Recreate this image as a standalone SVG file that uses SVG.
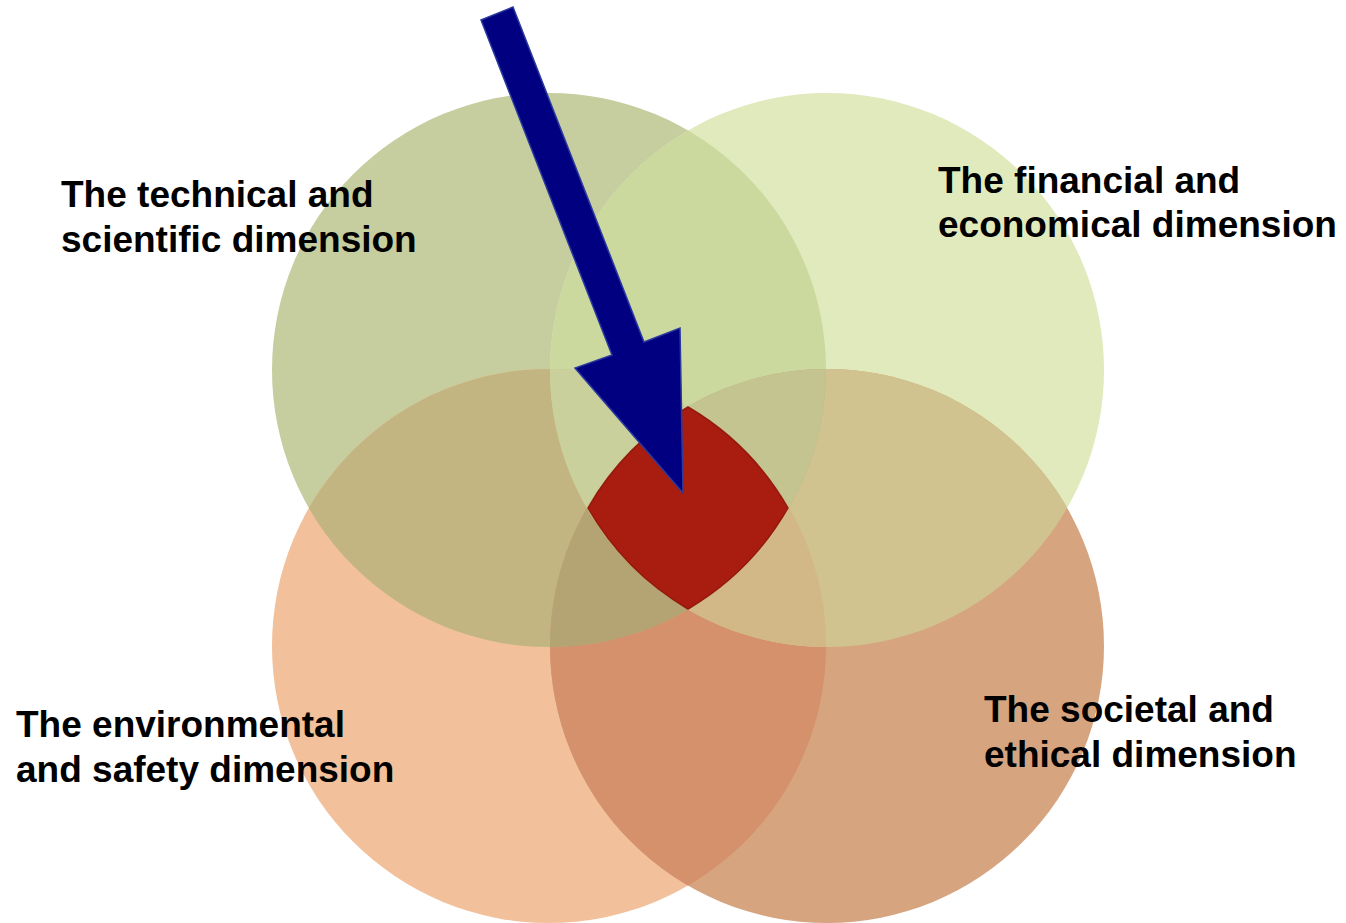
<svg xmlns="http://www.w3.org/2000/svg" width="1346" height="923" viewBox="0 0 1346 923">
<style>
.lbl{font-family:"Liberation Sans",Arial,sans-serif;font-weight:bold;font-size:37px;fill:#000}
</style>
<defs>
<clipPath id="kTL"><circle cx="549" cy="370" r="277"/></clipPath>
<clipPath id="kTR"><circle cx="827" cy="370" r="277"/></clipPath>
<clipPath id="kBL"><circle cx="549" cy="646" r="277"/></clipPath>
<clipPath id="kBR"><circle cx="827" cy="646" r="277"/></clipPath>
</defs>
<rect width="1346" height="923" fill="#ffffff"/>
<g id="node-technical">
<circle cx="549" cy="370" r="277" fill="#c6cd9f"/>
</g>
<g id="node-financial">
<circle cx="827" cy="370" r="277" fill="#e0eabc"/>
</g>
<g id="node-environmental">
<circle cx="549" cy="646" r="277" fill="#f2c09a"/>
</g>
<g id="node-societal">
<circle cx="827" cy="646" r="277" fill="#d6a47f"/>
</g>
<g id="overlaps">
<g clip-path="url(#kTL)"><circle cx="827" cy="370" r="277" fill="#cbd89e"/></g>
<g clip-path="url(#kTL)"><circle cx="549" cy="646" r="277" fill="#c2b582"/></g>
<g clip-path="url(#kTR)"><circle cx="827" cy="646" r="277" fill="#d0c38f"/></g>
<g clip-path="url(#kBL)"><circle cx="827" cy="646" r="277" fill="#d4916c"/></g>
<g clip-path="url(#kTL)"><circle cx="827" cy="646" r="277" fill="#c4ae85"/></g>
<g clip-path="url(#kTR)"><circle cx="549" cy="646" r="277" fill="#d8cf9a"/></g>
<g clip-path="url(#kTL)"><g clip-path="url(#kTR)"><circle cx="549" cy="646" r="277" fill="#c9d09b"/></g></g>
<g clip-path="url(#kTL)"><g clip-path="url(#kTR)"><circle cx="827" cy="646" r="277" fill="#c3c48f"/></g></g>
<g clip-path="url(#kTL)"><g clip-path="url(#kBL)"><circle cx="827" cy="646" r="277" fill="#b4a473"/></g></g>
<g clip-path="url(#kTR)"><g clip-path="url(#kBL)"><circle cx="827" cy="646" r="277" fill="#d2b787"/></g></g>
</g>
<g id="node-center">
<path d="M588,508 A277,277 0 0 1 688,407 A277,277 0 0 1 788,508 A277,277 0 0 1 688,609 A277,277 0 0 1 588,508 Z" fill="#a91c10" stroke="#931a0e" stroke-width="1.5" stroke-linejoin="round"/>
</g>
<g id="labels">
<text class="lbl" x="61" y="207">The technical and</text>
<text class="lbl" x="61" y="252">scientific dimension</text>
<text class="lbl" x="938" y="193">The financial and</text>
<text class="lbl" x="938" y="237">economical dimension</text>
<text class="lbl" x="16" y="737">The environmental</text>
<text class="lbl" x="16" y="782">and safety dimension</text>
<text class="lbl" x="984" y="722">The societal and</text>
<text class="lbl" x="984" y="767">ethical dimension</text>
</g>
<g id="connectors">
<polygon points="481,20 513,7 644,342 680,328 683,493 575,368 612,355" fill="#000080" stroke="#2a3a9e" stroke-width="1.5" stroke-linejoin="miter"/>
</g>
</svg>
